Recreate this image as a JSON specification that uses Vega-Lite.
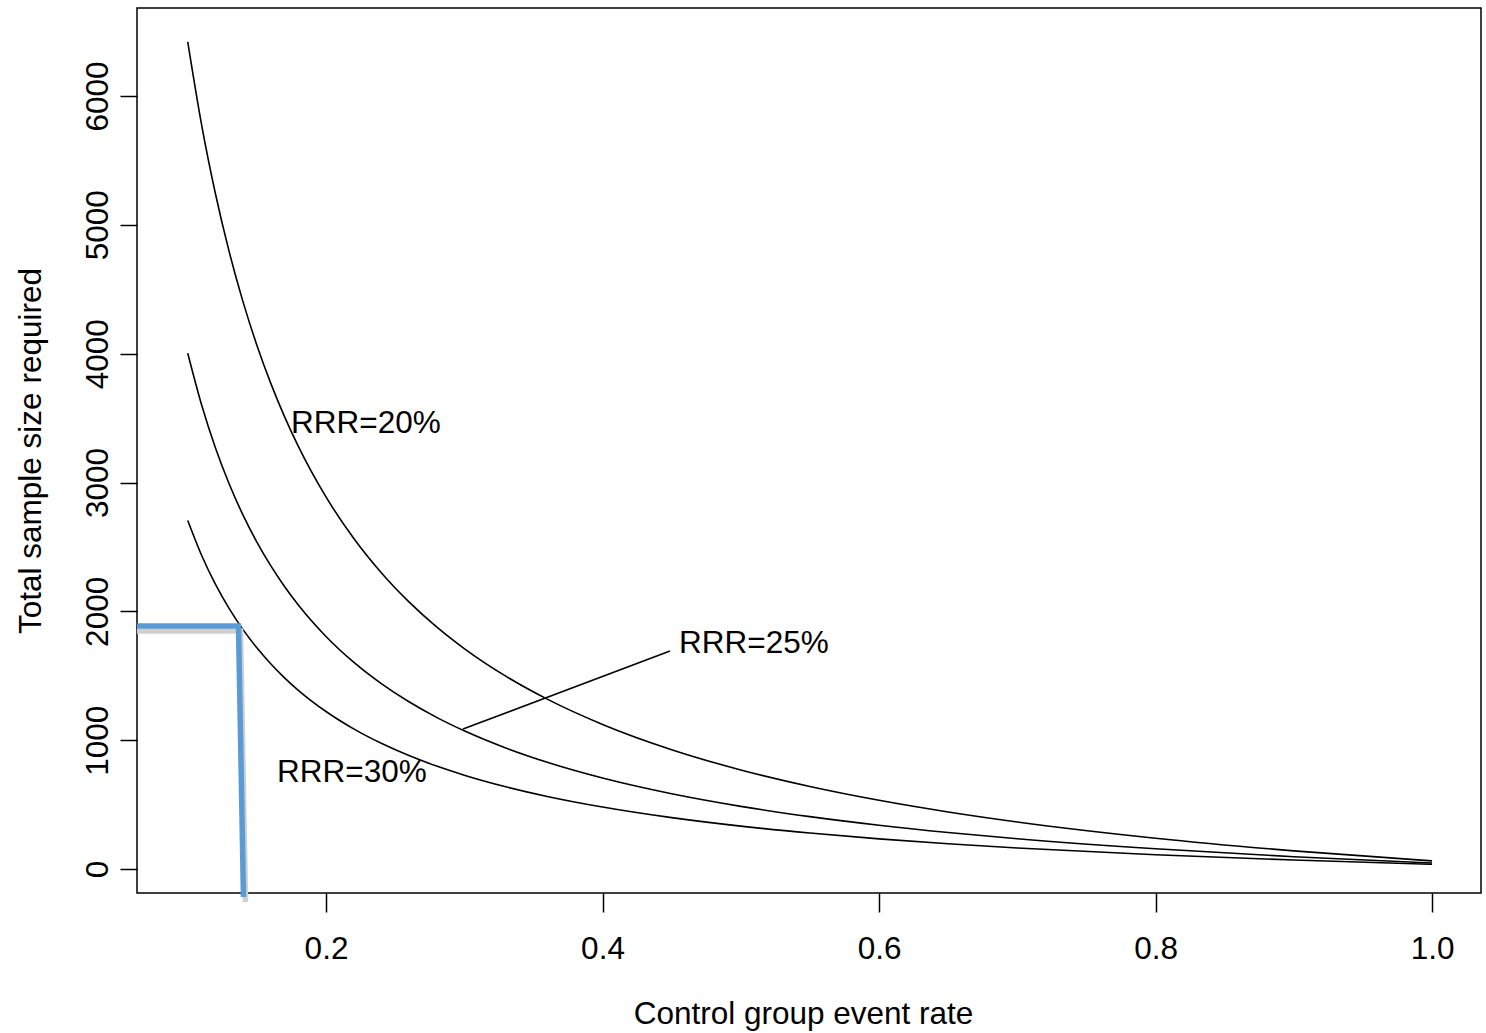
{
  "$schema": "https://vega.github.io/schema/vega-lite/v6.json",
  "autosize": {"type": "none"},
  "padding": {"left": 137, "top": 8, "right": 5, "bottom": 140},
  "width": 1344,
  "height": 885,
  "config": {
    "font": "Liberation Sans",
    "view": {"stroke": "#000000", "strokeWidth": 1.5},
    "axis": {"grid": false, "domain": false, "tickColor": "#000000", "tickWidth": 1.5, "labelColor": "#000000", "titleColor": "#000000", "labelFontSize": 31.5, "titleFontSize": 31.5, "titleFontWeight": "normal", "labelFont": "Liberation Sans", "titleFont": "Liberation Sans"}
  },
  "datasets": {
    "curves": [
      {"p": 0.10, "n": 6420.5, "rrr": "20"}, {"p": 0.11, "n": 5778.3, "rrr": "20"}, {"p": 0.12, "n": 5243.1, "rrr": "20"}, {"p": 0.13, "n": 4790.3, "rrr": "20"}, {"p": 0.14, "n": 4402.2, "rrr": "20"}, {"p": 0.15, "n": 4065.8, "rrr": "20"}, {"p": 0.16, "n": 3771.4, "rrr": "20"}, {"p": 0.17, "n": 3511.8, "rrr": "20"}, {"p": 0.18, "n": 3280.9, "rrr": "20"}, {"p": 0.20, "n": 2888.4, "rrr": "20"}, {"p": 0.22, "n": 2567.3, "rrr": "20"}, {"p": 0.24, "n": 2299.8, "rrr": "20"}, {"p": 0.26, "n": 2073.4, "rrr": "20"}, {"p": 0.28, "n": 1879.3, "rrr": "20"}, {"p": 0.30, "n": 1711.1, "rrr": "20"}, {"p": 0.33, "n": 1497.0, "rrr": "20"}, {"p": 0.36, "n": 1318.6, "rrr": "20"}, {"p": 0.40, "n": 1122.4, "rrr": "20"}, {"p": 0.45, "n": 926.2, "rrr": "20"}, {"p": 0.50, "n": 769.2, "rrr": "20"}, {"p": 0.55, "n": 640.8, "rrr": "20"}, {"p": 0.60, "n": 533.7, "rrr": "20"}, {"p": 0.65, "n": 443.2, "rrr": "20"}, {"p": 0.70, "n": 365.5, "rrr": "20"}, {"p": 0.80, "n": 239.4, "rrr": "20"}, {"p": 0.90, "n": 141.3, "rrr": "20"}, {"p": 1.00, "n": 62.8, "rrr": "20"},
      {"p": 0.10, "n": 4003.0, "rrr": "25"}, {"p": 0.11, "n": 3603.3, "rrr": "25"}, {"p": 0.12, "n": 3270.4, "rrr": "25"}, {"p": 0.13, "n": 2988.6, "rrr": "25"}, {"p": 0.14, "n": 2747.1, "rrr": "25"}, {"p": 0.15, "n": 2537.8, "rrr": "25"}, {"p": 0.16, "n": 2354.7, "rrr": "25"}, {"p": 0.17, "n": 2193.1, "rrr": "25"}, {"p": 0.18, "n": 2049.4, "rrr": "25"}, {"p": 0.20, "n": 1805.3, "rrr": "25"}, {"p": 0.22, "n": 1605.5, "rrr": "25"}, {"p": 0.24, "n": 1439.0, "rrr": "25"}, {"p": 0.26, "n": 1298.1, "rrr": "25"}, {"p": 0.28, "n": 1177.3, "rrr": "25"}, {"p": 0.30, "n": 1072.7, "rrr": "25"}, {"p": 0.33, "n": 939.5, "rrr": "25"}, {"p": 0.36, "n": 828.5, "rrr": "25"}, {"p": 0.40, "n": 706.4, "rrr": "25"}, {"p": 0.45, "n": 584.3, "rrr": "25"}, {"p": 0.50, "n": 486.6, "rrr": "25"}, {"p": 0.55, "n": 406.7, "rrr": "25"}, {"p": 0.60, "n": 340.1, "rrr": "25"}, {"p": 0.65, "n": 283.8, "rrr": "25"}, {"p": 0.70, "n": 235.5, "rrr": "25"}, {"p": 0.80, "n": 157.0, "rrr": "25"}, {"p": 0.90, "n": 95.9, "rrr": "25"}, {"p": 1.00, "n": 47.1, "rrr": "25"},
      {"p": 0.10, "n": 2705.2, "rrr": "30"}, {"p": 0.11, "n": 2435.6, "rrr": "30"}, {"p": 0.12, "n": 2211.0, "rrr": "30"}, {"p": 0.13, "n": 2020.9, "rrr": "30"}, {"p": 0.14, "n": 1858.0, "rrr": "30"}, {"p": 0.15, "n": 1716.8, "rrr": "30"}, {"p": 0.16, "n": 1593.3, "rrr": "30"}, {"p": 0.17, "n": 1484.3, "rrr": "30"}, {"p": 0.18, "n": 1387.4, "rrr": "30"}, {"p": 0.20, "n": 1222.7, "rrr": "30"}, {"p": 0.22, "n": 1087.9, "rrr": "30"}, {"p": 0.24, "n": 975.6, "rrr": "30"}, {"p": 0.26, "n": 880.5, "rrr": "30"}, {"p": 0.28, "n": 799.0, "rrr": "30"}, {"p": 0.30, "n": 728.5, "rrr": "30"}, {"p": 0.33, "n": 638.6, "rrr": "30"}, {"p": 0.36, "n": 563.7, "rrr": "30"}, {"p": 0.40, "n": 481.4, "rrr": "30"}, {"p": 0.45, "n": 399.0, "rrr": "30"}, {"p": 0.50, "n": 333.1, "rrr": "30"}, {"p": 0.55, "n": 279.2, "rrr": "30"}, {"p": 0.60, "n": 234.3, "rrr": "30"}, {"p": 0.65, "n": 196.3, "rrr": "30"}, {"p": 0.70, "n": 163.7, "rrr": "30"}, {"p": 0.80, "n": 110.7, "rrr": "30"}, {"p": 0.90, "n": 69.6, "rrr": "30"}, {"p": 1.00, "n": 36.6, "rrr": "30"}
    ],
    "highlight": [
      {"p": 0.0633, "n": 1847, "k": "shadow", "o": 1},
      {"p": 0.1382, "n": 1847, "k": "shadow", "o": 2},
      {"p": 0.1418, "n": -256, "k": "shadow", "o": 3},
      {"p": 0.0633, "n": 1886, "k": "blue", "o": 1},
      {"p": 0.1367, "n": 1886, "k": "blue", "o": 2},
      {"p": 0.1403, "n": -217, "k": "blue", "o": 3}
    ],
    "leader": [
      {"p": 0.2991, "n": 1086, "o": 1},
      {"p": 0.4488, "n": 1692, "o": 2}
    ],
    "labels": [
      {"p": 0.1747, "n": 3384, "label": "RRR=20%"},
      {"p": 0.4554, "n": 1677, "label": "RRR=25%"},
      {"p": 0.1646, "n": 675, "label": "RRR=30%"}
    ]
  },
  "layer": [
    {
      "data": {"name": "curves"},
      "mark": {"type": "line", "color": "#000000", "strokeWidth": 1.6, "interpolate": "monotone"},
      "encoding": {
        "x": {"field": "p", "type": "quantitative", "scale": {"domain": [0.0633, 1.0354], "nice": false, "zero": false},
          "axis": {"values": [0.2, 0.4, 0.6, 0.8, 1.0], "format": ".1f", "tickSize": 19, "labelPadding": 21, "title": "Control group event rate", "titlePadding": 34, "titleX": 666}},
        "y": {"field": "n", "type": "quantitative", "scale": {"domain": [-186, 6683], "nice": false, "zero": false},
          "axis": {"values": [0, 1000, 2000, 3000, 4000, 5000, 6000], "format": "d", "tickSize": 17, "labelPadding": 13, "labelAngle": -90, "labelAlign": "center", "labelBaseline": "alphabetic", "title": "Total sample size required", "titlePadding": 35}},
        "detail": {"field": "rrr"}
      }
    },
    {
      "data": {"name": "leader"},
      "mark": {"type": "line", "color": "#000000", "strokeWidth": 1.6},
      "encoding": {
        "x": {"field": "p", "type": "quantitative"},
        "y": {"field": "n", "type": "quantitative"},
        "order": {"field": "o"}
      }
    },
    {
      "data": {"name": "highlight"},
      "mark": {"type": "line", "strokeWidth": 5.5, "strokeCap": "butt", "strokeJoin": "miter"},
      "encoding": {
        "x": {"field": "p", "type": "quantitative"},
        "y": {"field": "n", "type": "quantitative"},
        "detail": {"field": "k"},
        "order": {"field": "o"},
        "color": {"field": "k", "type": "nominal", "scale": {"domain": ["shadow", "blue"], "range": ["#cfcfcf", "#5b9bd5"]}, "legend": null}
      }
    },
    {
      "data": {"name": "labels"},
      "mark": {"type": "text", "align": "left", "baseline": "alphabetic", "fontSize": 31.5, "color": "#000000", "font": "Liberation Sans"},
      "encoding": {
        "x": {"field": "p", "type": "quantitative"},
        "y": {"field": "n", "type": "quantitative"},
        "text": {"field": "label"}
      }
    }
  ]
}
